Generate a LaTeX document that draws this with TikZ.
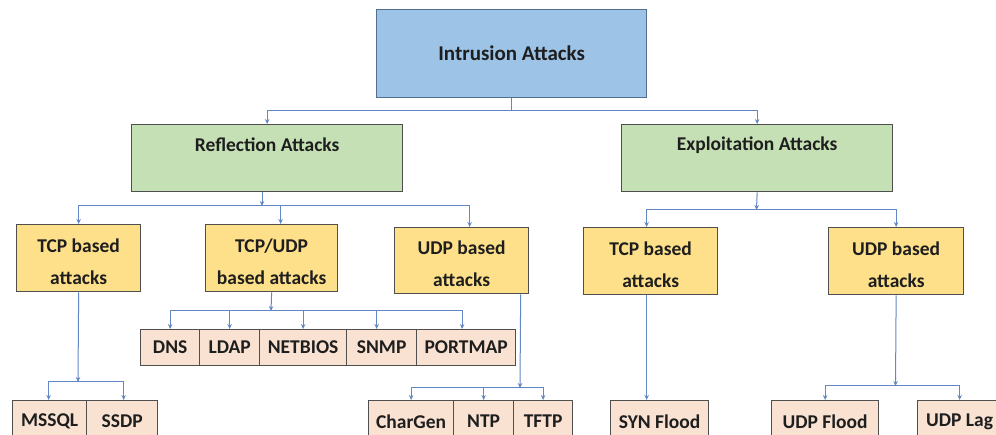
\documentclass[tikz,border=0pt]{standalone}
\usepackage{fontspec}
\setmainfont{Carlito}
\usetikzlibrary{arrows.meta}
\definecolor{topfill}{HTML}{9DC3E6}
\definecolor{topline}{HTML}{52708E}
\definecolor{greenfill}{HTML}{C5E0B4}
\definecolor{goldfill}{HTML}{FFE08A}
\definecolor{peachfill}{HTML}{F9E2D2}
\definecolor{boxline}{HTML}{4F4F4F}
\definecolor{linkblue}{HTML}{6387C2}
\definecolor{textdark}{HTML}{1E1E1E}
\begin{document}
\begin{tikzpicture}[x=1pt,y=-1pt,
  box/.style={draw=boxline, line width=1.3pt, anchor=north west, inner sep=0pt,
    text=textdark, font=\bfseries\fontsize{19.5}{32}\selectfont, align=center},
  lbl/.style={text=textdark, font=\bfseries\fontsize{19.5}{32}\selectfont, inner sep=0pt, align=center},
  rootbox/.style={box, fill=topfill, draw=topline, font=\bfseries\fontsize{21}{25}\selectfont},
  groupbox/.style={box, fill=greenfill},
  protobox/.style={box, fill=goldfill},
  leafbox/.style={box, fill=peachfill},
  link/.style={draw=linkblue, line width=1pt},
  tip/.style={link, -{Stealth[length=5pt,width=4.5pt]}},
]
\path[use as bounding box, clip] (0,0) rectangle (996,435);
\fill[white] (0,0) rectangle (996,435);

% root
\node[rootbox, minimum width=270, minimum height=88] (intr) at (376,9) {Intrusion Attacks};

% attack families
\node[groupbox, minimum width=271, minimum height=67] (refl) at (131,124) {};
\node[lbl] (refl-lbl) at ([yshift=-21pt]refl.north) {Reflection Attacks};
\node[groupbox, minimum width=271, minimum height=67] (expl) at (621,124) {};
\node[lbl] (expl-lbl) at ([yshift=-21pt]expl.north) {Exploitation Attacks};

% protocol groups
\node[protobox, minimum width=124, minimum height=67] (tcpL) at (16,224) {};
\node[lbl] (tcpL-lbl) at ([yshift=-3.5pt]tcpL.center) {TCP based\\attacks};
\node[protobox, minimum width=132, minimum height=67] (tcpudp) at (205,224) {};
\node[lbl] (tcpudp-lbl) at ([yshift=-3.5pt]tcpudp.center) {TCP/UDP\\based attacks};
\node[protobox, minimum width=134, minimum height=66] (udpM) at (394,227) {};
\node[lbl] (udpM-lbl) at ([yshift=-3.5pt]udpM.center) {UDP based\\attacks};
\node[protobox, minimum width=134, minimum height=67] (tcpR) at (583,227) {};
\node[lbl] (tcpR-lbl) at ([yshift=-3.5pt]tcpR.center) {TCP based\\attacks};
\node[protobox, minimum width=135, minimum height=67] (udpR) at (828,227) {};
\node[lbl] (udpR-lbl) at ([yshift=-3.5pt]udpR.center) {UDP based\\attacks};

% TCP/UDP services
\node[leafbox, minimum width=59, minimum height=36] (dns) at (140,329) {DNS};
\node[leafbox, minimum width=60, minimum height=36] (ldap) at (199,329) {LDAP};
\node[leafbox, minimum width=87, minimum height=36] (netbios) at (259,329) {NETBIOS};
\node[leafbox, minimum width=70, minimum height=36] (snmp) at (346,329) {SNMP};
\node[leafbox, minimum width=99, minimum height=36] (portmap) at (416,329) {PORTMAP};

% bottom row
\node[leafbox, minimum width=74, minimum height=42] (mssql) at (12,400) {MSSQL};
\node[leafbox, minimum width=71, minimum height=42] (ssdp) at (86,400) {SSDP};
\node[leafbox, minimum width=85, minimum height=42] (chargen) at (368,400) {CharGen};
\node[leafbox, minimum width=60, minimum height=42] (ntp) at (453,400) {NTP};
\node[leafbox, minimum width=59, minimum height=42] (tftp) at (513,400) {TFTP};
\node[leafbox, minimum width=98, minimum height=42] (syn) at (610,400) {SYN Flood};
\node[leafbox, minimum width=107, minimum height=42] (udpflood) at (771,400) {UDP Flood};
\node[leafbox, minimum width=84, minimum height=42] (udplag) at (917,400) {UDP Lag};

% root -> families
\draw[link] (intr.south) -- ++(0,12) coordinate (ij);
\draw[tip] (ij) -| (refl.north);
\draw[tip] (ij) -| (expl.north);

% reflection -> protocol groups
\coordinate (rj) at (262,206);
\draw[tip] (refl.south -| rj) -- (rj);
\draw[tip] (rj) -| (tcpL.north);
\draw[tip] (rj) -| ([xshift=9pt]tcpudp.north);
\draw[tip] (rj) -| ([xshift=8pt]udpM.north);

% exploitation -> protocol groups
\coordinate (ej) at (756.5,210);
\draw[tip] (expl.south) -- (ej);
\draw[tip] (ej) -| ([xshift=-4pt]tcpR.north);
\draw[tip] (ej) -| (udpR.north);

% TCP/UDP -> services
\coordinate (tj) at (271,311);
\draw[tip] (tcpudp.south) -- (tj);
\draw[tip] (tj) -| (dns.north);
\draw[tip] (tj) -| (ldap.north);
\draw[tip] (tj) -| (netbios.north);
\draw[tip] (tj) -| ([xshift=-5pt]snmp.north);
\draw[tip] (tj) -| ([xshift=-4pt]portmap.north);

% TCP (reflection) -> services
\coordinate (lj) at (78,382);
\draw[tip] (tcpL.south) -- (lj);
\draw[tip] (lj) -| ([xshift=-1pt]mssql.north);
\draw[tip] (lj) -| ([xshift=1.5pt]ssdp.north);

% UDP (reflection) -> services
\coordinate (mj) at (520,388);
\draw[tip] ([xshift=59pt]udpM.south) -- (mj);
\draw[tip] (mj) -| (chargen.north);
\draw[tip] (mj) -| (ntp.north);
\draw[tip] (mj) -| (tftp.north);

% TCP (exploitation) -> SYN flood
\draw[tip] ([xshift=-4pt]tcpR.south) -- ([xshift=-4pt]tcpR.south |- syn.north);

% UDP (exploitation) -> services
\coordinate (uj) at (895.5,386);
\draw[tip] (udpR.south) -- (uj);
\draw[tip] (uj) -| (udpflood.north);
\draw[tip] (uj) -| (udplag.north);
\end{tikzpicture}
\end{document}
